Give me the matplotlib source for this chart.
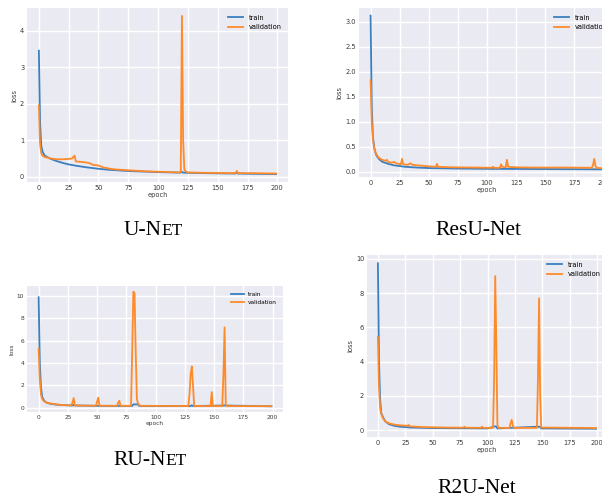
import numpy as np
import matplotlib
matplotlib.use("Agg")
from matplotlib import pyplot as plt

W = 602; H = 497

# U-Net loss curves (epoch, loss)
unet_train_ep = [0, 1, 2, 3, 4, 5, 7, 10, 15, 20, 25, 30, 40, 50, 60, 75, 100, 119, 120, 121, 125, 150, 165, 166, 167, 175, 199]
unet_train = [3.45, 1.5, 0.85, 0.7, 0.63, 0.58, 0.54, 0.49, 0.43, 0.38, 0.34, 0.31, 0.26, 0.22, 0.19, 0.16, 0.13, 0.115, 0.14, 0.115, 0.11, 0.095, 0.09, 0.12, 0.09, 0.085, 0.075]
unet_val_ep = [0, 1, 2, 3, 5, 8, 10, 15, 20, 25, 28, 29, 30, 31, 35, 40, 43, 45, 50, 53, 55, 60, 65, 70, 75, 80,
               90, 100, 110, 118, 119, 120, 121, 122, 123, 125, 140, 165, 166, 167, 180, 199]
unet_val = [1.95, 0.9, 0.65, 0.58, 0.54, 0.52, 0.5, 0.48, 0.48, 0.49, 0.5, 0.55, 0.58, 0.42, 0.41, 0.39, 0.37, 0.33, 0.31, 0.27, 0.25,
            0.22, 0.2, 0.19, 0.18, 0.17, 0.15, 0.14, 0.13, 0.12, 0.13, 4.4, 1.0, 0.2, 0.15, 0.12, 0.11, 0.1, 0.16, 0.1, 0.1, 0.09]

# ResU-Net
resu_train_ep = [0, 1, 2, 3, 4, 5, 7, 10, 15, 20, 30, 40, 50, 75, 100, 150, 199]
resu_train = [3.12, 1.3, 0.7, 0.5, 0.4, 0.33, 0.26, 0.2, 0.16, 0.13, 0.1, 0.085, 0.075, 0.065, 0.06, 0.055, 0.05]
resu_val_ep = [0, 1, 2, 3, 4, 5, 7, 10, 13, 14, 15, 18, 20, 22, 26, 27, 28, 32, 34, 36, 40, 45, 50, 56, 57, 58, 70, 90,
               104, 105, 106, 111, 112, 113, 116, 117, 118, 125, 140, 170, 190, 191, 192, 193, 194, 199]
resu_val = [1.83, 1.0, 0.65, 0.48, 0.4, 0.35, 0.28, 0.24, 0.22, 0.24, 0.2, 0.18, 0.2, 0.17, 0.15, 0.26, 0.15, 0.14, 0.17, 0.14,
            0.13, 0.12, 0.11, 0.1, 0.16, 0.1, 0.09, 0.085, 0.08, 0.1, 0.08, 0.08, 0.15, 0.1, 0.09, 0.24, 0.1, 0.09, 0.085,
            0.085, 0.08, 0.14, 0.26, 0.12, 0.08, 0.07]

# RU-Net
ru_train_ep = [0, 1, 2, 3, 4, 5, 7, 10, 15, 20, 29, 30, 31, 50, 80, 81, 85, 86, 100, 130, 131, 132, 159, 199]
ru_train = [9.9, 4.0, 1.8, 1.0, 0.75, 0.6, 0.45, 0.35, 0.28, 0.24, 0.2, 0.25, 0.2, 0.17, 0.16, 0.3, 0.3, 0.16, 0.15, 0.15,
            0.22, 0.15, 0.2, 0.13]
ru_val_ep = [0, 1, 2, 3, 4, 5, 7, 10, 15, 20, 28, 29, 30, 31, 49, 50, 51, 52, 67, 68, 69, 70, 79, 80, 81, 82, 83, 84, 85,
             86, 87, 128, 129, 130, 131, 132, 133, 147, 148, 149, 157, 158, 159, 160, 161, 199]
ru_val = [5.3, 2.5, 1.2, 0.8, 0.65, 0.55, 0.45, 0.38, 0.3, 0.25, 0.2, 0.5, 0.87, 0.2, 0.18, 0.55, 0.9, 0.18, 0.17, 0.45,
          0.63, 0.17, 0.17, 5.0, 10.4, 10.3, 5.0, 0.8, 0.35, 0.25, 0.17, 0.15, 1.2, 3.0, 3.7, 2.0, 0.15, 0.15, 1.4, 0.15,
          0.15, 3.0, 7.2, 0.3, 0.15, 0.14]

# R2U-Net
r2u_train_ep = [0, 1, 2, 3, 5, 7, 10, 15, 20, 30, 50, 100, 107, 108, 109, 147, 148, 149, 199]
r2u_train = [9.75, 4.0, 1.8, 1.0, 0.7, 0.5, 0.35, 0.25, 0.2, 0.15, 0.12, 0.1, 0.22, 0.2, 0.1, 0.2, 0.18, 0.1, 0.08]
r2u_val_ep = [0, 1, 2, 3, 4, 5, 7, 10, 15, 20, 27, 28, 29, 40, 60, 78, 79, 80, 94, 95, 96, 105, 106, 107, 108, 109, 110,
              120, 121, 122, 123, 124, 145, 146, 147, 148, 149, 199]
r2u_val = [5.45, 2.5, 1.3, 0.95, 0.8, 0.65, 0.5, 0.4, 0.32, 0.28, 0.25, 0.3, 0.22, 0.18, 0.15, 0.14, 0.2, 0.14, 0.13, 0.2,
           0.13, 0.13, 3.0, 9.0, 5.0, 0.3, 0.13, 0.13, 0.4, 0.6, 0.3, 0.13, 0.13, 3.0, 7.7, 2.0, 0.15, 0.12]

xticks = [0, 25, 50, 75, 100, 125, 150, 175, 200]

BG = "#EAEAF2"
BLUE = "#3a7fc0"
ORANGE = "#ff8a2a"


def px_axes(fig, left, top, right, bottom):
    return fig.add_axes([left / W, 1 - bottom / H, (right - left) / W, (bottom - top) / H])


def loss_panel(ax, tr_ep, tr, va_ep, va, fs, yfmt=None):
    ax.set_facecolor(BG)
    ax.plot(tr_ep, tr, color=BLUE, lw=1.3, label="train")
    ax.plot(va_ep, va, color=ORANGE, lw=1.3, label="validation")
    ax.set_xticks(xticks)
    ax.grid(True, color="white", lw=1.0)
    ax.set_axisbelow(True)
    for s in ax.spines.values():
        s.set_visible(False)
    ax.tick_params(length=0, labelsize=fs, colors="#3a3a3a", pad=2)
    if yfmt:
        ax.yaxis.set_major_formatter(plt.FormatStrFormatter(yfmt))
    ax.set_xlabel("epoch", fontsize=fs, color="#3a3a3a", labelpad=1)
    ax.set_ylabel("loss", fontsize=fs, color="#3a3a3a", labelpad=2)
    ax.legend(loc="upper right", frameon=False, fontsize=fs, handlelength=2.2, borderaxespad=0.6)


def caption(fig, xc, yb, parts):
    #parts = list of (text, size) so small caps can be faked
    r = fig.canvas.get_renderer()
    texts = [fig.text(0, 0, s, fontsize=size, family="Liberation Serif", va="baseline", color="black")
             for s, size in parts]
    widths = [t.get_window_extent(r).width for t in texts]
    x0 = xc - sum(widths) / 2
    for t, w in zip(texts, widths):
        t.set_position((x0 / W, 1 - yb / H))
        x0 += w


fig = plt.figure(figsize=(W / 100, H / 100), dpi=100)
fig.patch.set_facecolor("white")

ax1 = px_axes(fig, 27, 8, 288, 182)
loss_panel(ax1, unet_train_ep, unet_train, unet_val_ep, unet_val, 4.8)
ax1.set_yticks([0, 1, 2, 3, 4])

ax2 = px_axes(fig, 359, 8, 614, 177)
loss_panel(ax2, resu_train_ep, resu_train, resu_val_ep, resu_val, 4.8, "%.1f")
ax2.set_yticks([0, 0.5, 1.0, 1.5, 2.0, 2.5, 3.0])

ax3 = px_axes(fig, 27, 286, 283, 412)
loss_panel(ax3, ru_train_ep, ru_train, ru_val_ep, ru_val, 4.2)
ax3.set_yticks([0, 2, 4, 6, 8, 10])

ax4 = px_axes(fig, 367, 255, 607, 437)
loss_panel(ax4, r2u_train_ep, r2u_train, r2u_val_ep, r2u_val, 4.8)
ax4.set_yticks([0, 2, 4, 6, 8, 10])

caption(fig, 153, 235, [("U-N", 15.5), ("ET", 12.5)])
caption(fig, 478, 235, [("ResU-Net", 15.5)])
caption(fig, 150, 465, [("RU-N", 15.5), ("ET", 12.5)])
caption(fig, 477, 493, [("R2U-Net", 15.5)])

fig.savefig("out.png", dpi=100)
